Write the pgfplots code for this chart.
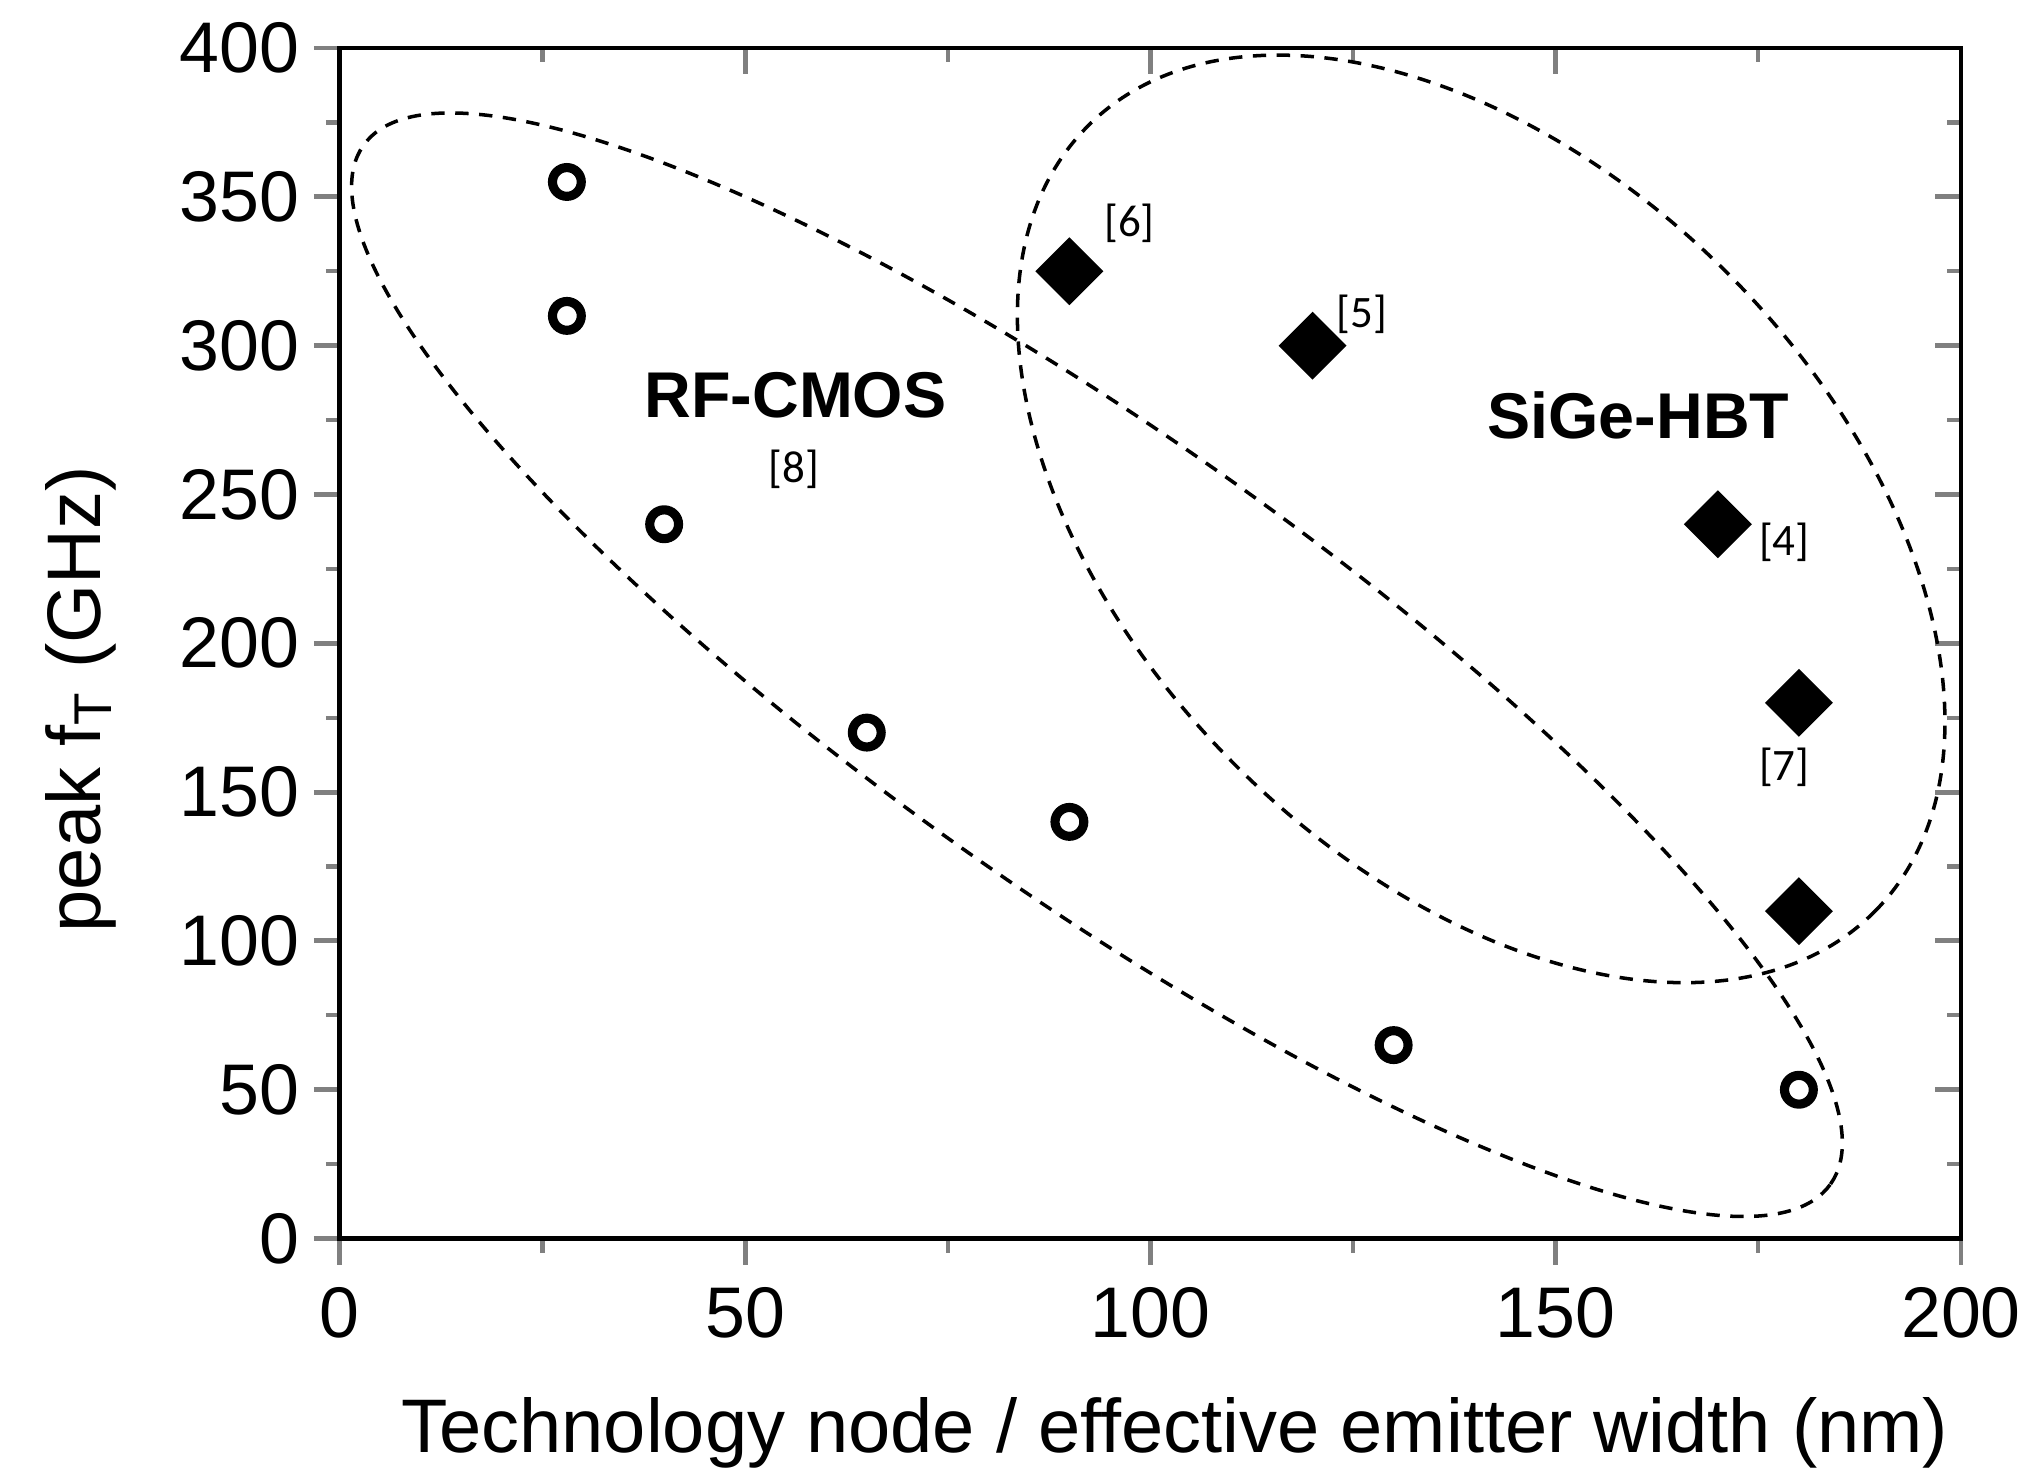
\documentclass[border=0pt]{standalone}
\usepackage{fontspec}
\setmainfont{Liberation Sans}
\newfontfamily\reffont{Carlito}
\usepackage{pgfplots}
\pgfplotsset{compat=1.18}

\begin{document}
\begin{tikzpicture}
\pgfplotsset{
  common/.style={
    scale only axis, width=8.107cm, height=5.954cm,
    at={(0,0)}, anchor=south west,
    xmin=0, xmax=200, ymin=0, ymax=400,
    xtick={0,50,...,200}, ytick={0,50,...,400},
    minor x tick num=1, minor y tick num=1,
    axis line style={line width=0.7pt},
    major tick style={line width=0.7pt},
    minor tick style={line width=0.6pt},
    major tick length=0.13cm, minor tick length=0.07cm,
  }
}
% inward ticks on top and right
\begin{axis}[common, tick align=inside, xtick pos=upper, ytick pos=right,
  xticklabels={}, yticklabels={}]
\end{axis}
\begin{axis}[common, tick align=outside, xtick pos=lower, ytick pos=left,
  clip=false,
  /pgf/number format/assume math mode=true,
  tick label style={font=\fontsize{10.2}{12}\selectfont},
  xticklabel style={yshift=0.01cm},
  yticklabel style={xshift=0.05cm},
  xlabel={Technology node / effective emitter width (nm)},
  ylabel={peak f\textsubscript{T} (GHz)},
  label style={font=\fontsize{10.8}{12}\selectfont},
  xlabel style={at={(axis description cs:0.515,-0.1797)}, anchor=base},
  ylabel style={at={(axis description cs:-0.148,0.453)}, anchor=base},
]
% RF-CMOS
\addplot[only marks, mark=*, mark size=0.072cm,
  mark options={fill=white, draw=black, line width=1.3pt}]
  coordinates {(28,355) (28,310) (40,240) (65,170) (90,140) (130,65) (180,50)};
% SiGe-HBT
\addplot[only marks, mark=square*, mark size=0.113cm,
  mark options={fill=black, draw=black, rotate=45}]
  coordinates {(90,325) (120,300) (170,240) (180,180) (180,110)};

\tikzset{dashline/.style={line width=0.5pt, dash pattern=on 1.9pt off 1.5pt}}
\draw[dashline, rotate around={-35.3:(axis cs:93.4,192.8)}]
  (axis cs:93.4,192.8) ellipse [x radius=4.495cm, y radius=1.139cm];
\draw[dashline, rotate around={-45:(axis cs:140.8,241.8)}]
  (axis cs:140.8,241.8) ellipse [x radius=2.78cm, y radius=1.74cm];

\node[font=\fontsize{9.2}{11}\selectfont\bfseries] at (axis cs:56.2,283.2) {RF-CMOS};
\node[font=\fontsize{9.2}{11}\selectfont\bfseries] at (axis cs:160.2,276.7) {SiGe-HBT};
\begin{scope}[every node/.style={font=\reffont\fontsize{6.4}{8}\selectfont}]
\node at (axis cs:56.0,258.4) {[8]};
\node at (axis cs:97.4,341.2) {[6]};
\node at (axis cs:126.1,310.7) {[5]};
\node at (axis cs:178.2,234.0) {[4]};
\node at (axis cs:178.2,158.2) {[7]};
\end{scope}
\end{axis}
\pgfresetboundingbox
\path[use as bounding box] (-1.70,-1.155) rectangle (8.472,6.194);
\end{tikzpicture}
\end{document}
